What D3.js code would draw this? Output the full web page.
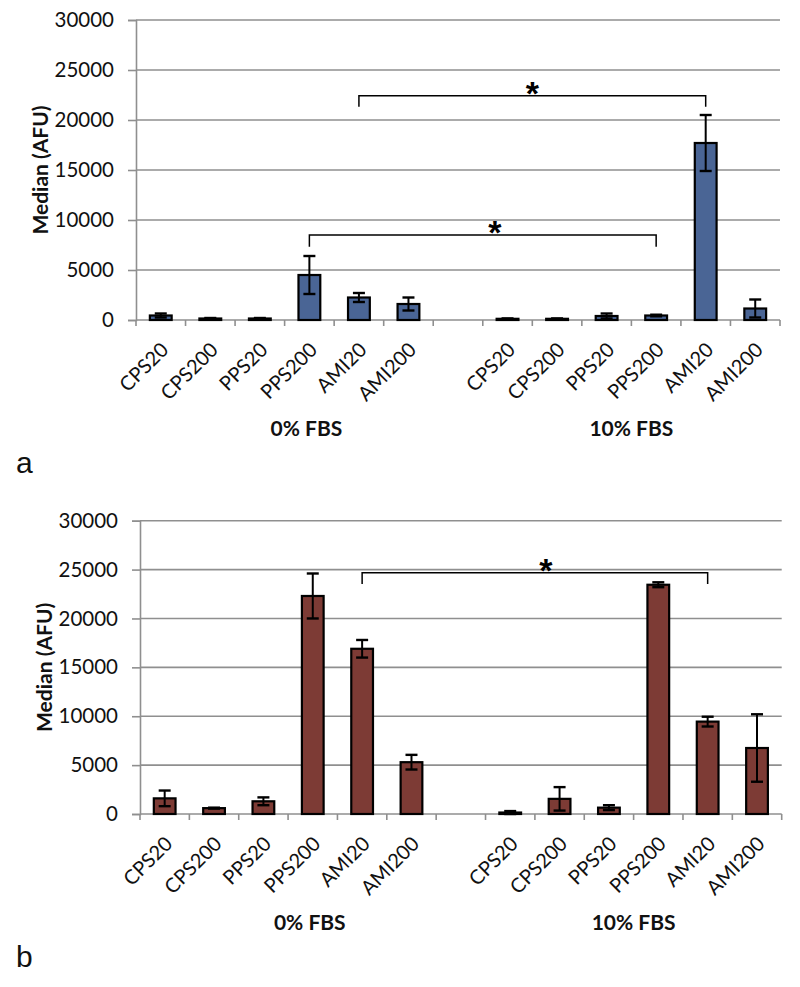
<!DOCTYPE html>
<html><head><meta charset="utf-8">
<script src="https://cdn.jsdelivr.net/npm/d3@7"></script>
<style>
body{margin:0;background:#fff;}
text{font-family:Lato,"Open Sans",sans-serif;}
</style></head>
<body><svg id="chart" width="800" height="987"></svg>
<script>
// ---- data ----
const categories = ["CPS20","CPS200","PPS20","PPS200","AMI20","AMI200"];
const groups = ["0% FBS","10% FBS"];
const yTicks = [0,5000,10000,15000,20000,25000,30000];

const a0Values = [450,150,150,4500,2250,1600];
const a0Errors = [200,50,50,1900,450,650];
const a10Values = [120,120,400,450,17700,1150];
const a10Errors = [40,40,250,80,2800,900];

const b0Values = [1600,600,1300,22300,16900,5300];
const b0Errors = [800,50,400,2300,900,750];
const b10Values = [150,1550,650,23450,9450,6750];
const b10Errors = [150,1200,250,250,500,3450];

// significance brackets: [fromSlot, toSlot, lineValue, dropValue]
const aBrackets = [[4,11,22430,21330],[3,10,8500,7330]];
const bBrackets = [[4,11,24680,23520]];

const svg = d3.select("#chart");

function drawPanel(cfg){
  const g = svg.append("g");
  const slots = d3.range(13);
  const x = d3.scaleBand().domain(slots).range([cfg.left,cfg.right]).padding(0);
  const y = d3.scaleLinear().domain([0,30000]).range([cfg.bottom,cfg.top]);
  const rows = [];
  cfg.v0.forEach((v,i)=>rows.push({slot:i,label:categories[i],v:v,e:cfg.e0[i]}));
  cfg.v10.forEach((v,i)=>rows.push({slot:i+7,label:categories[i],v:v,e:cfg.e10[i]}));

  // gridlines
  g.selectAll(".grid").data(yTicks.filter(t=>t>0)).enter().append("line")
    .attr("x1",cfg.left).attr("x2",cfg.right)
    .attr("y1",d=>y(d)).attr("y2",d=>y(d))
    .attr("stroke","#8f8f8f").attr("stroke-width",1.6);

  // y axis
  const ya = g.append("g").attr("transform",`translate(${cfg.left},0)`)
    .call(d3.axisLeft(y).tickValues(yTicks).tickSize(8).tickPadding(14).tickFormat(d3.format("d")));
  ya.select(".domain").attr("stroke","#8f8f8f").attr("stroke-width",1.6);
  ya.selectAll(".tick line").attr("stroke","#8f8f8f").attr("stroke-width",1.6);
  ya.selectAll(".tick text").attr("font-size",20.5).attr("fill","#111").style("font-family","Lato");

  // x axis line + ticks at band boundaries
  g.append("line").attr("x1",cfg.left).attr("x2",cfg.right)
    .attr("y1",cfg.bottom).attr("y2",cfg.bottom)
    .attr("stroke","#8f8f8f").attr("stroke-width",1.6);
  const bounds = d3.range(14).map(i=> i<13 ? x(i) : x(12)+x.bandwidth());
  g.selectAll(".xt").data(bounds).enter().append("line")
    .attr("x1",d=>d).attr("x2",d=>d).attr("y1",cfg.bottom).attr("y2",cfg.bottom+6)
    .attr("stroke","#8f8f8f").attr("stroke-width",1.6);

  // bars
  const bw = x.bandwidth()*0.44;
  const cx = s => x(s)+x.bandwidth()/2;
  g.selectAll(".bar").data(rows).enter().append("rect")
    .attr("x",d=>cx(d.slot)-bw/2).attr("width",bw)
    .attr("y",d=>y(d.v)).attr("height",d=>y(0)-y(d.v))
    .attr("fill",cfg.color).attr("stroke","#000").attr("stroke-width",2.2);

  // error bars
  const cap = 6;
  const eb = g.selectAll(".eb").data(rows).enter().append("g");
  eb.append("line").attr("x1",d=>cx(d.slot)).attr("x2",d=>cx(d.slot))
    .attr("y1",d=>y(Math.max(0,d.v-d.e))).attr("y2",d=>y(d.v+d.e))
    .attr("stroke","#000").attr("stroke-width",2);
  eb.append("line").attr("x1",d=>cx(d.slot)-cap).attr("x2",d=>cx(d.slot)+cap)
    .attr("y1",d=>y(d.v+d.e)).attr("y2",d=>y(d.v+d.e))
    .attr("stroke","#000").attr("stroke-width",2.4);
  eb.append("line").attr("x1",d=>cx(d.slot)-cap).attr("x2",d=>cx(d.slot)+cap)
    .attr("y1",d=>y(Math.max(0,d.v-d.e))).attr("y2",d=>y(Math.max(0,d.v-d.e)))
    .attr("stroke","#000").attr("stroke-width",2.4);

  // category labels
  g.selectAll(".cl").data(rows).enter().append("text")
    .attr("transform",d=>`translate(${cx(d.slot)+9},${cfg.bottom+31}) rotate(-45)`)
    .attr("text-anchor","end").attr("font-size",20).attr("fill","#111")
    .text(d=>d.label);

  // group labels
  const gx = [ (x(0)+x(6)+x.bandwidth())/2 - 3, (x(7)+x(12)+x.bandwidth())/2 ];
  g.selectAll(".gl").data(groups).enter().append("text")
    .attr("x",(d,i)=>gx[i]).attr("y",cfg.bottom+116)
    .attr("text-anchor","middle").attr("font-size",21).attr("font-weight","bold").attr("fill","#111")
    .text(d=>d);

  // y title
  g.append("text").attr("transform",`translate(${cfg.left-88},${(cfg.top+cfg.bottom)/2}) rotate(-90)`)
    .attr("text-anchor","middle").attr("font-size",21).attr("font-weight","bold").attr("fill","#111")
    .text("Median (AFU)");

  // brackets
  cfg.brackets.forEach((b,k)=>{
    const x1 = cx(b[0]), x2 = cx(b[1]);
    g.append("path")
      .attr("d",`M${x1},${y(b[3])}V${y(b[2])}H${x2}V${y(b[3])}`)
      .attr("fill","none").attr("stroke","#000").attr("stroke-width",1.5);
    g.append("text").attr("x",(x1+x2)/2 + cfg.starShift[k]).attr("y",y(b[2])+9)
      .attr("text-anchor","middle").attr("font-size",34).attr("font-weight","bold")
      .style("font-family","Liberation Sans, Arial, sans-serif").attr("fill","#000").text("*");
  });

  // panel letter
  svg.append("text").attr("x",16).attr("y",cfg.bottom+153)
    .attr("font-size",30).style("font-family","Liberation Sans, Arial, sans-serif").attr("fill","#111")
    .text(cfg.letter);
}

drawPanel({left:136,right:780,top:20,bottom:320,color:"#4a6595",
  v0:a0Values,e0:a0Errors,v10:a10Values,e10:a10Errors,brackets:aBrackets,starShift:[0,12],letter:"a"});
drawPanel({left:140,right:781.7,top:520.7,bottom:814,color:"#7d3b35",
  v0:b0Values,e0:b0Errors,v10:b10Values,e10:b10Errors,brackets:bBrackets,starShift:[11],letter:"b"});
</script></body></html>
